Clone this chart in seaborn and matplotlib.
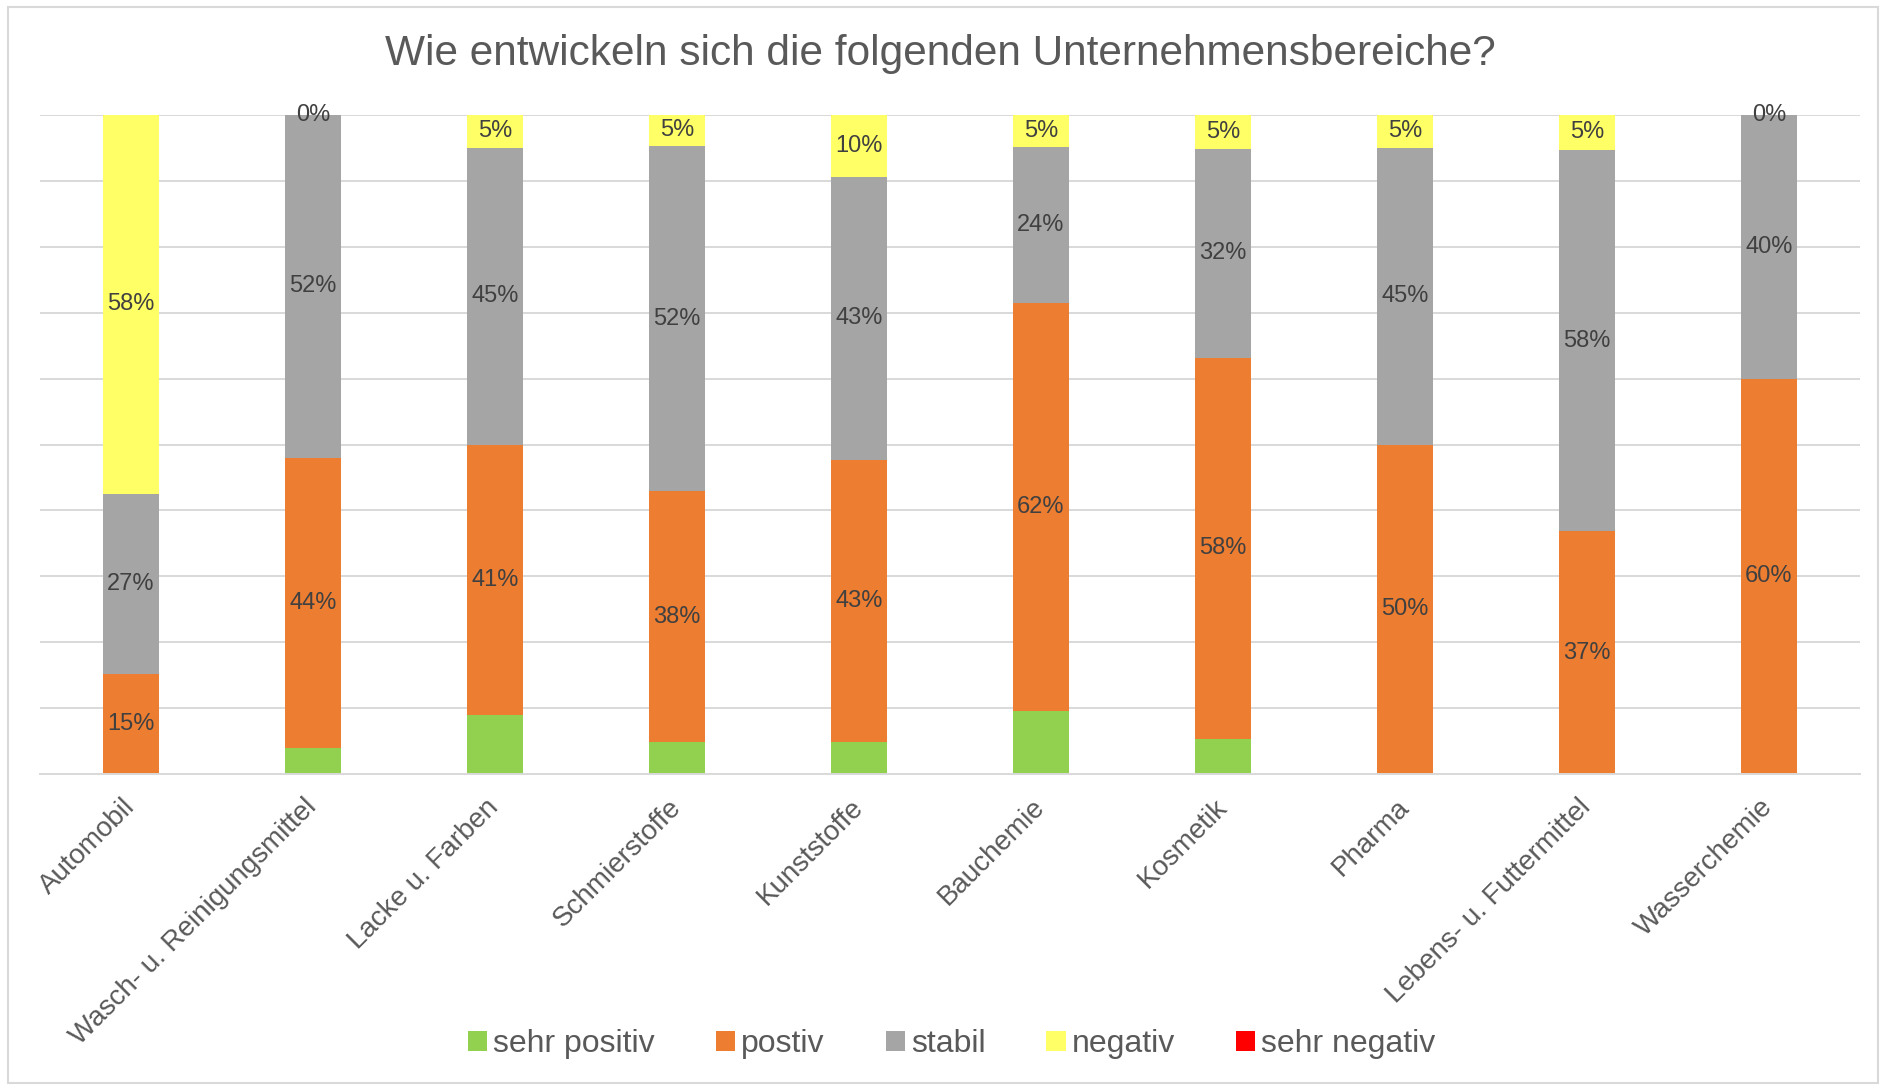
import matplotlib
matplotlib.use("Agg")
import matplotlib.pyplot as plt
from matplotlib.patches import Patch, Rectangle
import numpy as np
import pandas as pd
import seaborn as sns

categories = [
    "Automobil",
    "Wasch- u. Reinigungsmittel",
    "Lacke u. Farben",
    "Schmierstoffe",
    "Kunststoffe",
    "Bauchemie",
    "Kosmetik",
    "Pharma",
    "Lebens- u. Futtermittel",
    "Wasserchemie",
]
# Anteile in Prozent
sehr_positiv = [0.0, 4.0, 9.0, 4.8, 4.8, 9.5, 5.3, 0.0, 0.0, 0.0]
postiv = [15.2, 44.0, 41.0, 38.1, 42.9, 61.9, 57.9, 50.0, 36.8, 60.0]
stabil = [27.3, 52.0, 45.0, 52.4, 42.9, 23.8, 31.6, 45.0, 57.9, 40.0]
negativ = [57.6, 0.0, 5.0, 4.8, 9.5, 4.8, 5.3, 5.0, 5.3, 0.0]
sehr_negativ = [0.0] * 10

series_names = ["sehr positiv", "postiv", "stabil", "negativ", "sehr negativ"]
series_colors = ["#92D050", "#ED7D31", "#A5A5A5", "#FFFF66", "#FF0000"]
show_labels = [False, True, True, True, False]

TEXT = "#595959"
LABEL = "#404040"
GRID = "#D9D9D9"
FONT = ["Liberation Sans", "DejaVu Sans"]

sns.set_theme(style="white")
plt.rcParams["font.family"] = FONT

df = pd.DataFrame(
    {
        "Bereich": categories,
        "sehr positiv": sehr_positiv,
        "postiv": postiv,
        "stabil": stabil,
        "negativ": negativ,
        "sehr negativ": sehr_negativ,
    }
)

fig = plt.figure(figsize=(18.81, 10.86), dpi=100)
ax = fig.add_axes([40 / 1881, 1 - 774 / 1086, 1820 / 1881, 659 / 1086])

bottom = np.zeros(len(categories))
for name, color, with_label in zip(series_names, series_colors, show_labels):
    vals = df[name].to_numpy()
    sns.barplot(
        data=df, x="Bereich", y=name, color=color, width=0.31,
        errorbar=None, bottom=bottom.copy(), ax=ax, linewidth=0, saturation=1,
    )
    if with_label:
        labels = [f"{int(np.floor(v + 0.5))}%" for v in vals]
        ax.bar_label(ax.containers[-1], labels=labels, label_type="center",
                     fontsize=17, color=LABEL)
    bottom += vals

ax.set_ylim(0, 100)
ax.set_xlim(-0.5, len(categories) - 0.5)
ax.set_yticks(np.arange(0, 101, 10))
ax.set_yticklabels([])
ax.tick_params(axis="y", length=0)
ax.yaxis.grid(True, color=GRID, linewidth=1.4)
ax.set_axisbelow(True)
ax.set_xlabel("")
ax.set_ylabel("")

ax.set_xticks(range(len(categories)))
ax.set_xticklabels(categories, rotation=45, ha="right", va="center",
                   rotation_mode="anchor", fontsize=20, color=TEXT)
ax.tick_params(axis="x", which="major", length=0, pad=21)
ax.set_xticks(np.arange(-0.5, len(categories), 1.0), minor=True)
ax.tick_params(axis="x", which="minor", length=7, width=1.4, color=GRID)

for side in ["left", "right", "top"]:
    ax.spines[side].set_visible(False)
ax.spines["bottom"].set_color(GRID)
ax.spines["bottom"].set_linewidth(1.4)

fig.text(0.5, 1 - 54 / 1086, "Wie entwickeln sich die folgenden Unternehmensbereiche?",
         ha="center", va="center", fontsize=30.5, color=TEXT)

handles = [Patch(facecolor=c, edgecolor="none") for c in series_colors]
fig.legend(handles, series_names, loc="center", bbox_to_anchor=(0.506, 1 - 1044 / 1086),
           ncol=5, frameon=False, fontsize=23, labelcolor=TEXT,
           handlelength=0.6, handleheight=0.6, handletextpad=0.2, columnspacing=1.9)

fig.patches.append(Rectangle((8 / 1881, 3 / 1086), 1870 / 1881, 1076 / 1086,
                             transform=fig.transFigure, fill=False,
                             edgecolor=GRID, linewidth=1.5))

fig.savefig("out.png", dpi=100, facecolor="white")
